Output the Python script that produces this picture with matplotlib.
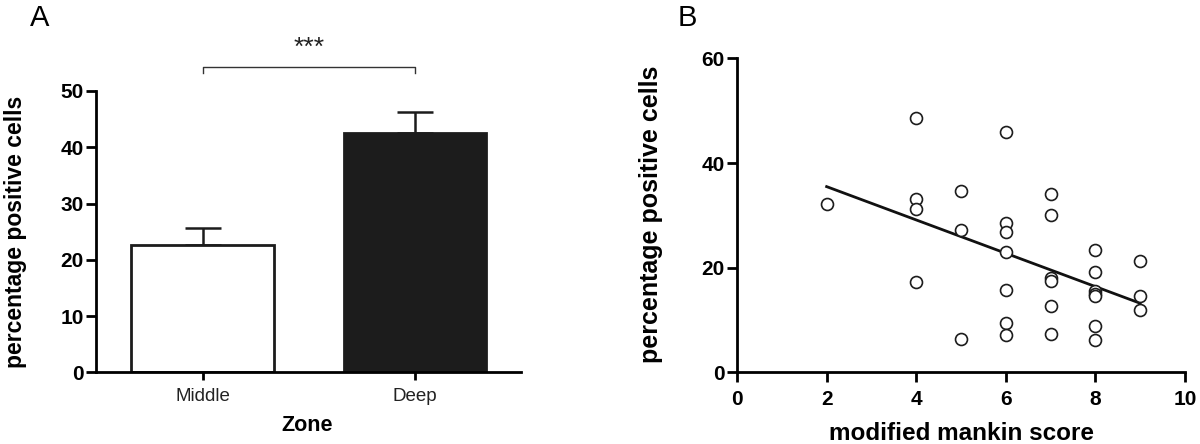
import numpy as np
import matplotlib
matplotlib.use('Agg')
import matplotlib.pyplot as plt

plt.rcParams['font.family'] = ['Liberation Sans', 'DejaVu Sans']

# panel A data
zones = ['Middle', 'Deep']
zone_mean = [22.6, 42.6]
zone_sem = [3.0, 3.6]

# panel B data
scores = [2, 4, 4, 4, 4, 5, 5, 5, 6, 6, 6, 6, 6, 6, 6,
          7, 7, 7, 7, 7, 7, 8, 8, 8, 8, 8, 8, 8, 9, 9, 9]
pct = [32.2, 48.6, 33.2, 31.3, 17.3, 34.6, 27.2, 6.4,
       45.9, 28.5, 26.9, 23.0, 15.8, 9.4, 7.1,
       34.0, 30.1, 18.0, 17.5, 12.6, 7.4,
       23.3, 19.2, 15.5, 15.0, 14.5, 8.9, 6.2,
       21.3, 14.6, 11.9]
fit_x = [2, 9]
fit_y = [35.5, 13.2]

fig = plt.figure(figsize=(12, 4.44), dpi=100)

# ---- panel A
ax1 = fig.add_axes([0.0803, 0.1615, 0.354, 0.6336])
xpos = np.arange(len(zones))
ax1.bar(xpos, zone_mean, width=0.67, color=['white', '#1c1c1c'],
        edgecolor='#1c1c1c', linewidth=2, zorder=2)
ax1.errorbar(xpos, zone_mean, yerr=[[0, 0], zone_sem], fmt='none',
             ecolor='#1c1c1c', elinewidth=1.8, capsize=13, capthick=1.8, zorder=1)
ax1.set_xlim(-0.5, 1.5)
ax1.set_ylim(0, 50)
ax1.set_yticks([0, 10, 20, 30, 40, 50])
ax1.set_xticks(xpos)
ax1.set_xticklabels(zones, fontsize=13.5, color='#222222')
for lab in ax1.get_yticklabels():
    lab.set_fontweight('bold')
    lab.set_fontsize(15)
ax1.spines['top'].set_visible(False)
ax1.spines['right'].set_visible(False)
for s in ['left', 'bottom']:
    ax1.spines[s].set_linewidth(2)
ax1.tick_params(axis='y', length=7, width=2, pad=2)
ax1.tick_params(axis='x', length=6, width=2, pad=5)
ax1.set_ylabel('percentage positive cells', fontsize=16.5, fontweight='bold')
ax1.yaxis.set_label_coords(-0.163, 0.5)
ax1.set_xlabel('Zone', fontsize=15.5, fontweight='bold')
ax1.xaxis.set_label_coords(0.496, -0.152)

# significance bracket
ax1.plot([0, 0, 1, 1], [53.2, 54.3, 54.3, 53.2], color='#333333', lw=1, clip_on=False)
ax1.text(0.5, 57.6, '***', ha='center', va='center', fontsize=19, color='#222222')

# ---- panel B
ax2 = fig.add_axes([0.6142, 0.1615, 0.3733, 0.7068])
ax2.plot(scores, pct, 'o', markersize=8.6, markerfacecolor='white',
         markeredgecolor='#1c1c1c', markeredgewidth=1.2, zorder=3, clip_on=False)
ax2.plot(fit_x, fit_y, color='#111111', lw=2, zorder=2)
ax2.set_xlim(0, 10)
ax2.set_ylim(0, 60)
ax2.set_xticks([0, 2, 4, 6, 8, 10])
ax2.set_yticks([0, 20, 40, 60])
for lab in ax2.get_xticklabels() + ax2.get_yticklabels():
    lab.set_fontweight('bold')
    lab.set_fontsize(15)
ax2.spines['top'].set_visible(False)
ax2.spines['right'].set_visible(False)
for s in ['left', 'bottom']:
    ax2.spines[s].set_linewidth(2)
ax2.tick_params(axis='both', length=7, width=2, pad=2)
ax2.tick_params(axis='x', pad=6)
ax2.set_ylabel('percentage positive cells', fontsize=18, fontweight='bold')
ax2.yaxis.set_label_coords(-0.165, 0.504)
ax2.set_xlabel('modified mankin score', fontsize=17.5, fontweight='bold')
ax2.xaxis.set_label_coords(0.5, -0.158)

fig.text(0.033, 0.96, 'A', fontsize=21, va='center', ha='center')
fig.text(0.573, 0.96, 'B', fontsize=21, va='center', ha='center')

fig.savefig('out.png', dpi=100)
